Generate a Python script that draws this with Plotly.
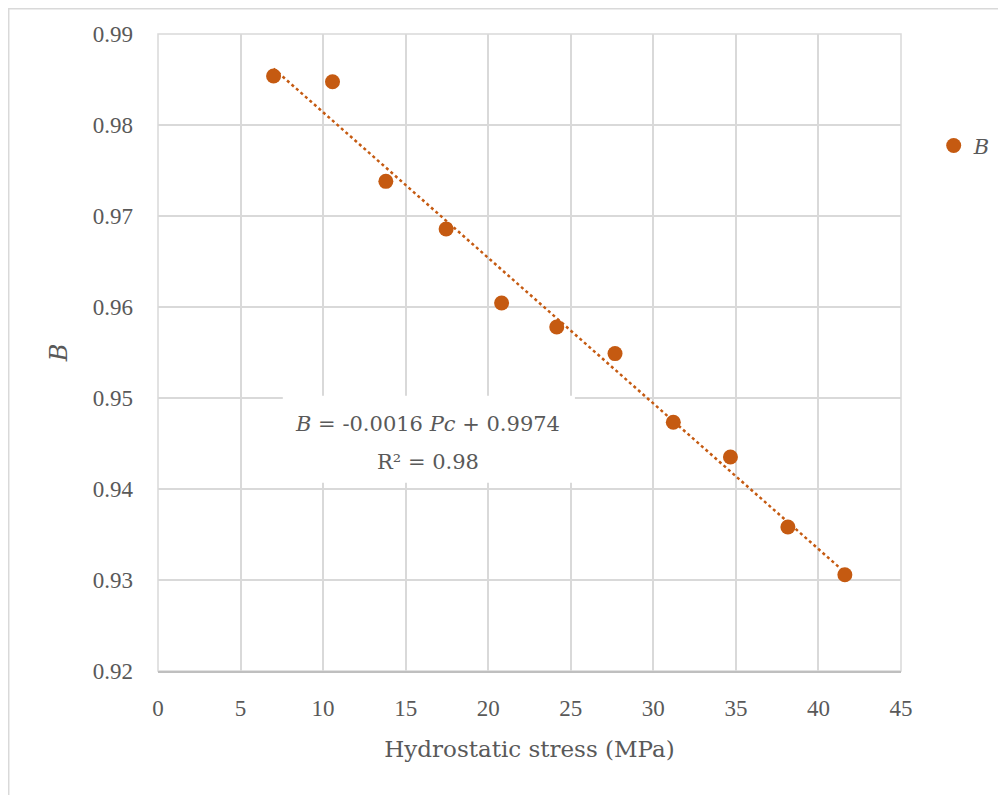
import plotly.graph_objects as go

# Data
pressure = [7.0, 10.57, 13.8, 17.45, 20.81, 24.15, 27.68, 31.21, 34.67, 38.15, 41.6]
b_values = [0.98538, 0.98476, 0.97381, 0.96857, 0.96044, 0.9578, 0.95488, 0.94733, 0.94352, 0.93582, 0.93058]
slope = -0.0016
intercept = 0.9974
x_ticks = [0, 5, 10, 15, 20, 25, 30, 35, 40, 45]
y_ticks = [0.92, 0.93, 0.94, 0.95, 0.96, 0.97, 0.98, 0.99]

COLOR = "#C55A11"
GRID = "#D9D9D9"
TEXT = "#595959"
FONT = "Liberation Serif"
FONT2 = "DejaVu Serif"

trend_x = [min(pressure), max(pressure)]
trend_y = [slope * x + intercept for x in trend_x]

fig = go.Figure()
fig.add_trace(go.Scatter(
    x=trend_x, y=trend_y, mode="lines",
    line=dict(color=COLOR, width=2.5, dash="dot"),
    showlegend=False, hoverinfo="skip"))
fig.add_trace(go.Scatter(
    x=pressure, y=b_values, mode="markers", name="<i>B</i>",
    marker=dict(color=COLOR, size=15)))

# plot-area outline (gridlines at range ends)
fig.add_shape(type="rect", xref="paper", yref="paper", x0=0, x1=1, y0=0, y1=1,
              line=dict(color=GRID, width=1.5), fillcolor="rgba(0,0,0,0)", layer="below")

# white box behind the equation
fig.add_shape(type="rect", xref="x", yref="y", x0=7.56, x1=25.25, y0=0.94069, y1=0.95025,
              fillcolor="white", line=dict(width=0), layer="between")
fig.add_annotation(x=16.35, y=0.94709, xref="x", yref="y",
                   text="<i>B</i> = -0.0016 <i>Pc</i> + 0.9974", showarrow=False,
                   font=dict(family=FONT2, size=21, color=TEXT))
fig.add_annotation(x=16.35, y=0.94292, xref="x", yref="y",
                   text="R² = 0.98", showarrow=False,
                   font=dict(family=FONT2, size=21, color=TEXT))

# outer chart frame
fig.add_shape(type="rect", xref="paper", yref="paper", x0=-0.2009, x1=1.2, y0=-0.25, y1=1.0396,
              line=dict(color=GRID, width=1.5), fillcolor="rgba(0,0,0,0)", layer="below")

fig.update_layout(
    width=1006, height=795,
    margin=dict(l=150, r=113, t=26, b=132, autoexpand=False),
    paper_bgcolor="white", plot_bgcolor="white",
    font=dict(family=FONT, size=23, color=TEXT),
    showlegend=True,
    legend=dict(x=1.044, y=0.8245, xanchor="left", yanchor="middle",
                font=dict(family=FONT2, size=21, color=TEXT),
                itemwidth=30, bgcolor="rgba(0,0,0,0)"),
)
fig.update_xaxes(
    range=[0, 45], tickvals=x_ticks, showgrid=True, gridcolor=GRID, gridwidth=1.5,
    showline=True, linecolor="#BFBFBF", linewidth=1.5, zeroline=False,
    ticks="", ticklabelstandoff=16,
    title=dict(text="Hydrostatic stress (MPa)", standoff=21,
               font=dict(family=FONT2, size=23, color=TEXT)),
    automargin=False,
)
fig.update_yaxes(
    range=[0.92, 0.99], tickvals=y_ticks, tickformat=".2f", showgrid=True, gridcolor=GRID,
    gridwidth=1.5, showline=False, zeroline=False, ticks="", ticklabelstandoff=24,
    title=dict(text="<i>B</i>", standoff=18, font=dict(family=FONT2, size=24, color=TEXT)),
    automargin=False,
)

fig.write_html("out.html")
